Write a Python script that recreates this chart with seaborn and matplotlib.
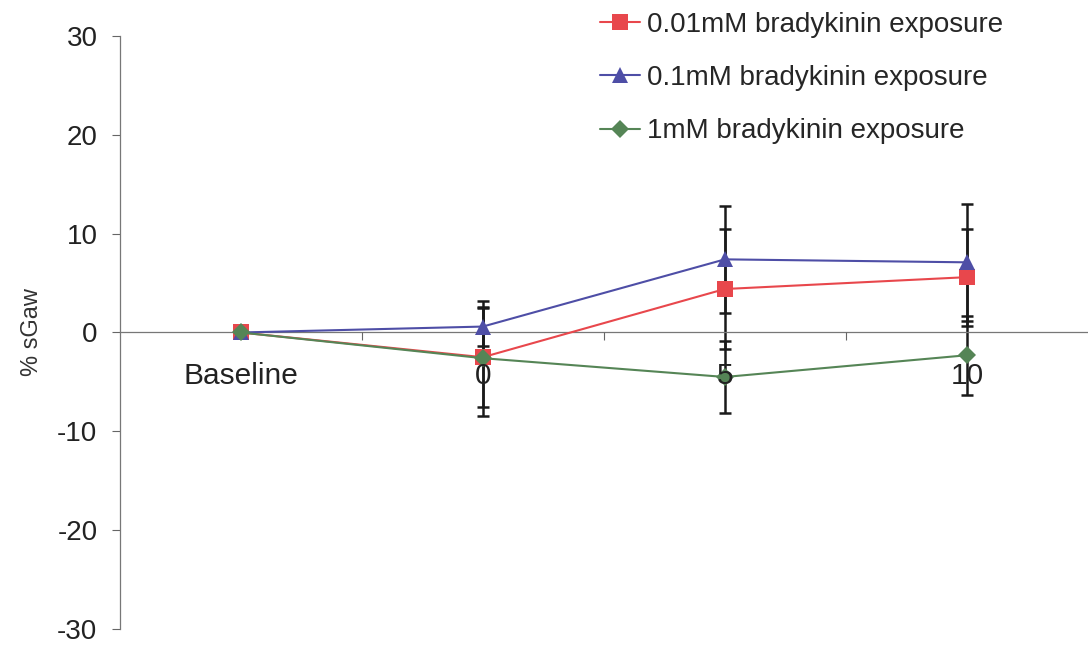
import numpy as np
import pandas as pd
import matplotlib
matplotlib.use("Agg")
import matplotlib.pyplot as plt
import seaborn as sns

sns.set_theme(style="white")
plt.rcParams['font.family'] = ['Liberation Sans', 'DejaVu Sans']
plt.rcParams['axes.unicode_minus'] = False

# data
timepoints = ['Baseline', '0', '5', '10']
series_names = ['0.01mM bradykinin exposure', '0.1mM bradykinin exposure', '1mM bradykinin exposure']
low_vals = [0, -2.5, 4.4, 5.6]
low_err = [0, 5.0, 6.1, 4.9]
mid_vals = [0, 0.6, 7.4, 7.1]
mid_err = [0, 2.0, 5.4, 5.9]
high_vals = [0, -2.6, -4.5, -2.3]
high_err = [0, 5.8, 3.6, 4.0]

colours = ['#e8474c', '#4e4ea6', '#558556']
markers = ['s', '^', 'D']
msizes = [11, 11, 9]

rows = []
for name, vals, errs in zip(series_names, [low_vals, mid_vals, high_vals], [low_err, mid_err, high_err]):
	for i, (v, e) in enumerate(zip(vals, errs)):
		rows.append({'series': name, 'pos': i, 'value': v, 'err': e})
df = pd.DataFrame(rows)

fig = plt.figure(figsize=(10.88, 6.64), dpi=100)
ax = fig.add_axes([0.110, 0.0527, 0.89, 0.8931])

# error bars first, black
for name in series_names:
	sub = df[df['series'] == name]
	ax.errorbar(sub['pos'], sub['value'], yerr=sub['err'], fmt='none', ecolor='#1a1a1a',
				elinewidth=1.8, capsize=4.5, capthick=1.8, zorder=2)

for name, col, mk, ms in zip(series_names, colours, markers, msizes):
	sub = df[df['series'] == name]
	sns.lineplot(data=sub, x='pos', y='value', color=col, marker=mk, markersize=ms,
				 markeredgewidth=0, lw=1.5, ax=ax, zorder=3, errorbar=None, label=name)

ax.set_xlim(-0.5, 3.5)
ax.set_ylim(-30, 30)
ax.set_yticks(np.arange(-30, 31, 10))
ax.tick_params(axis='y', labelsize=20, length=6, width=0.8, color='#666666', left=True, pad=10, labelcolor='#222222')

ax.spines['top'].set_visible(False)
ax.spines['right'].set_visible(False)
ax.spines['bottom'].set_position(('data', 0))
for s in ['left', 'bottom']:
	ax.spines[s].set_color('#777777')
	ax.spines[s].set_linewidth(0.9)

ax.set_xticks(range(len(timepoints)))
ax.set_xticklabels(timepoints)
ax.set_xticks(np.arange(0.5, 3.0, 1.0), minor=True)
ax.tick_params(axis='x', which='major', length=0, labelsize=21.5, pad=21, labelcolor='#222222')
ax.tick_params(axis='x', which='minor', length=6, width=0.8, color='#666666', bottom=True, direction='out')
ax.xaxis.set_zorder(4)

ax.set_xlabel('')
ax.set_ylabel('% sGaw', fontsize=17, color='#333333', labelpad=10)

handles, labels = ax.get_legend_handles_labels()
ax.legend(handles, labels, loc='upper left', bbox_to_anchor=(600 / 1088, (664 - 12) / 664), bbox_transform=fig.transFigure,
		  frameon=False, fontsize=20, labelspacing=0.98, handlelength=1.45, handletextpad=0.25,
		  borderaxespad=0, borderpad=0)

fig.savefig('out.png', dpi=100)
